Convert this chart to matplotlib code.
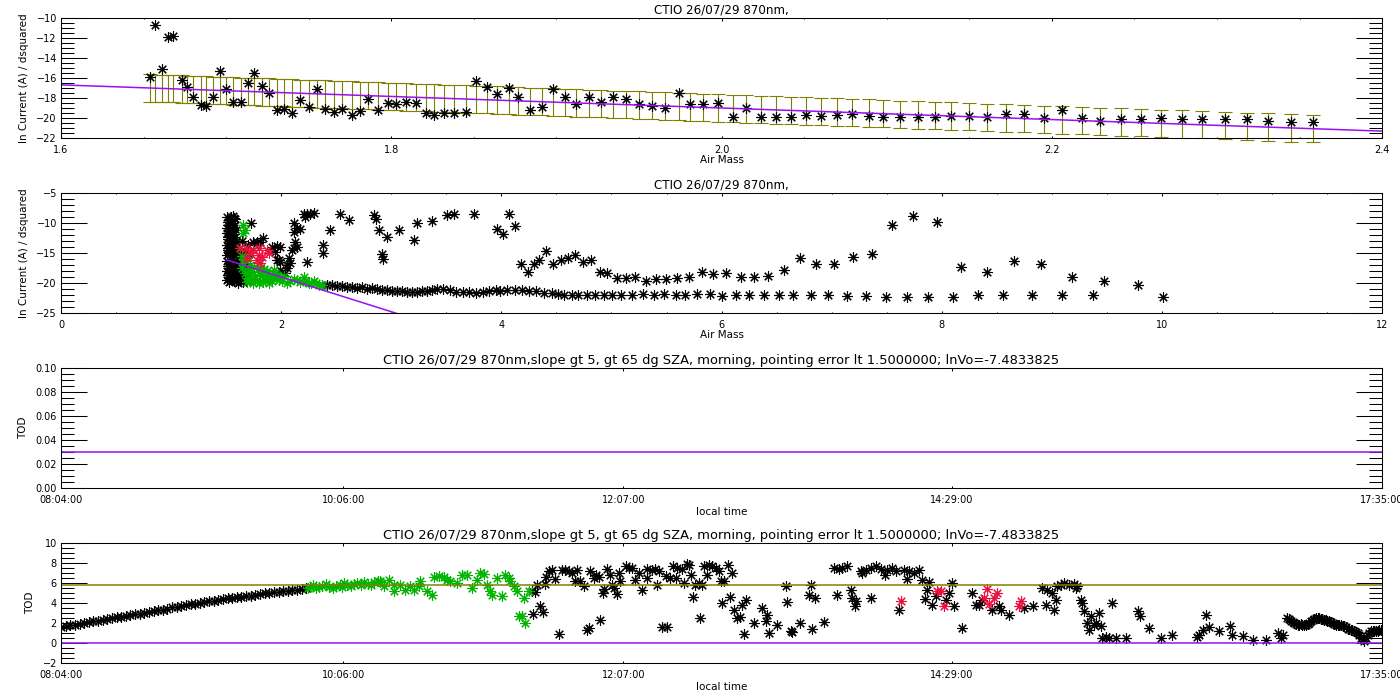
"""
Langley plot summary for CTIO 870nm: ln(current) vs air mass, and TOD vs local time
"""

import numpy as np
import matplotlib
matplotlib.use("Agg")
import matplotlib.pyplot as plt
from matplotlib.ticker import MultipleLocator, FixedLocator, FormatStrFormatter

OLIVE = "#808000"
PURPLE = "#9a10f0"
GREEN = "#00b400"
RED = "#e8103c"
ASTER = (8, 2, 0)

ln_vo = -7.4833825
tau = 5.75          # slope of the fit = TOD level drawn in the last panel
err_half = 1.36     # half length of the error bars in panel 1

title_short = "CTIO 26/07/29 870nm,"
title_long = ("CTIO 26/07/29 870nm,slope gt 5, gt 65 dg SZA, morning, "
              "pointing error lt 1.5000000; lnVo=-7.4833825")

# ---------------- panel 1 : points used in the fit ----------------
p1_am = [1.654, 1.657, 1.661, 1.665, 1.668, 1.673, 1.676, 1.680, 1.685, 1.688,
         1.692, 1.696, 1.700, 1.704, 1.709, 1.713, 1.717, 1.722, 1.726, 1.731,
         1.735, 1.740, 1.745, 1.750, 1.755, 1.760, 1.765, 1.770, 1.776, 1.781,
         1.786, 1.792, 1.798, 1.803, 1.809, 1.815, 1.821, 1.826, 1.832, 1.838,
         1.845, 1.851, 1.858, 1.864, 1.871, 1.877, 1.884, 1.891, 1.898, 1.905,
         1.912, 1.920, 1.927, 1.934, 1.942, 1.950, 1.958, 1.966, 1.974, 1.981,
         1.989, 1.998, 2.007, 2.015, 2.024, 2.033, 2.042, 2.051, 2.060, 2.070,
         2.079, 2.089, 2.098, 2.108, 2.119, 2.129, 2.139, 2.150, 2.161,
         2.172, 2.183, 2.195, 2.206, 2.218, 2.229, 2.242, 2.254, 2.266, 2.279,
         2.291, 2.305, 2.318, 2.331, 2.345, 2.358]
p1_lnv = [-15.89, -10.69, -15.07, -11.94, -11.78, -16.22, -16.88, -17.93, -18.68, -18.78,
          -17.86, -15.33, -17.14, -18.36, -18.36, -16.48, -15.49, -16.81, -17.53, -19.18,
          -19.11, -19.44, -18.19, -18.91, -17.14, -19.11, -19.34, -19.11, -19.67, -19.24,
          -18.13, -19.18, -18.52, -18.59, -18.36, -18.52, -19.44, -19.67, -19.51, -19.51,
          -19.34, -16.32, -16.94, -17.60, -17.04, -17.86, -19.18, -18.91, -17.14, -17.93,
          -18.59, -17.86, -18.36, -17.86, -18.13, -18.59, -18.78, -19.01, -17.47, -18.59,
          -18.59, -18.45, -19.84, -19.01, -19.84, -19.84, -19.84, -19.67, -19.77, -19.67,
          -19.57, -19.77, -19.84, -19.90, -19.84, -19.90, -19.77, -19.77, -19.84,
          -19.63, -19.63, -19.96, -19.14, -19.96, -20.23, -20.03, -20.03, -19.96, -20.03,
          -20.03, -20.03, -20.03, -20.23, -20.36, -20.36]

# ---------------- panel 2 : all points ----------------
p2_black_am = [
    # dense column near the minimum air mass
    1.51, 1.54, 1.56, 1.52, 1.55, 1.51, 1.56, 1.51, 1.54, 1.57, 1.52, 1.55, 1.51, 1.54, 1.57,
    1.52, 1.56, 1.57, 1.51, 1.54, 1.57, 1.63, 1.66, 1.70, 1.64, 1.70, 1.74, 1.78, 1.57, 1.73,
    1.53, 1.58, 1.52, 1.58, 1.53, 1.59, 1.52, 1.58, 1.53, 1.59, 1.52, 1.58, 1.53, 1.59,
    1.51, 1.55, 1.59, 1.63, 1.52, 1.56, 1.60, 1.64, 1.66, 1.51, 1.55, 1.59, 1.63, 1.66,
    1.52, 1.56, 1.60, 1.64, 1.66, 1.51, 1.55, 1.59, 1.63, 1.66,
    1.53, 1.57, 1.61, 1.65, 1.68, 1.53, 1.57, 1.61, 1.65, 1.68, 1.53, 1.57, 1.61, 1.65, 1.68,
    1.53, 1.57, 1.61, 1.65, 1.68, 1.53, 1.57, 1.61, 1.65, 1.68,
    # scattered points
    1.839, 1.809, 1.915, 1.961, 1.991, 1.976, 1.991, 2.067, 2.082, 2.051, 2.097, 2.112,
    2.127, 2.142, 2.118, 2.142, 2.173, 2.118, 2.203, 2.233, 2.264, 2.294, 2.218, 2.233,
    2.379, 2.379, 2.445, 2.536, 2.612, 2.839, 2.863, 2.885, 2.915, 2.924, 2.961, 3.067,
    3.203, 3.233, 3.370, 1.779, 1.945, 1.961, 1.991, 2.036, 2.051, 3.506, 3.567, 3.748, 3.961,
    4.069, 4.121, 4.017, 4.174, 4.242, 4.294, 4.346, 4.409, 4.471, 4.539, 4.607, 4.670,
    4.737, 4.816, 4.894, 4.962, 5.051, 5.129, 5.218, 5.312, 5.400, 5.494, 5.599, 5.703,
    5.818, 5.922, 6.042, 6.173, 6.298, 6.418, 6.564, 6.715, 6.861, 7.018, 7.190, 7.368,
    7.550, 7.738, 7.958, 8.177, 8.407, 8.652, 8.902, 9.184, 9.471, 9.784,
    # lower band
    2.370, 2.415, 2.460, 2.506, 2.551, 2.597, 2.642, 2.688, 2.733, 2.779, 2.824, 2.870,
    2.915, 2.961, 3.006, 3.052, 3.097, 3.142, 3.188, 3.233, 3.279, 3.324, 3.370, 3.415,
    3.47, 3.53, 3.59, 3.65, 3.71, 3.77, 3.83, 3.89, 3.95,
    3.991, 4.054, 4.121, 4.189, 4.252, 4.315, 4.383, 4.461, 4.513, 4.565, 4.643, 4.696,
    4.774, 4.852, 4.931, 5.009, 5.087, 5.191, 5.285, 5.390, 5.478, 5.583, 5.672, 5.776,
    5.896, 6.000, 6.131, 6.251, 6.381, 6.522, 6.653, 6.809, 6.966, 7.138, 7.316, 7.498,
    7.681, 7.879, 8.104, 8.333, 8.558, 8.819, 9.095, 9.377, 10.009]
p2_black_lnv = [
    -9.0, -9.1, -8.9, -9.8, -10.0, -10.8, -11.0, -11.6, -12.0, -11.8, -12.7, -13.0, -13.6, -13.8, -13.5,
    -14.5, -14.7, -14.3, -15.3, -15.5, -15.2, -14.9, -15.4, -15.0, -13.0, -13.6, -13.2, -13.4, -9.2, -10.07,
    -9.5, -9.4, -10.4, -10.3, -11.3, -11.2, -12.3, -12.4, -13.3, -13.2, -14.1, -14.0, -15.0, -15.1,
    -16.3, -16.2, -16.4, -16.3, -17.1, -17.0, -17.2, -17.1, -16.9, -17.9, -17.8, -18.0, -17.9, -17.7,
    -18.7, -18.6, -18.8, -18.7, -18.5, -19.5, -19.4, -19.6, -19.5, -19.3,
    -16.7, -16.6, -16.8, -16.7, -16.6, -17.5, -17.4, -17.6, -17.5, -17.3, -18.3, -18.2, -18.4, -18.3, -18.1,
    -19.1, -19.0, -19.2, -19.1, -18.9, -19.8, -19.7, -19.9, -19.8, -19.6,
    -12.55, -13.10, -13.93, -13.76, -13.93, -16.14, -16.42, -15.86, -16.69, -17.51, -14.48, -14.21,
    -13.10, -13.93, -11.45, -10.90, -11.00, -10.07, -8.58, -8.58, -8.58, -8.42, -8.97, -16.42,
    -13.65, -15.03, -11.17, -8.58, -9.52, -8.75, -9.30, -11.17, -15.20, -15.97, -12.27, -11.17,
    -12.82, -10.07, -9.69, -13.21, -14.76, -16.14, -17.79, -18.34, -16.97, -8.75, -8.59, -8.59, -10.96,
    -8.59, -10.57, -11.78, -16.74, -18.12, -16.74, -16.19, -14.65, -16.85, -16.19, -15.75, -15.37,
    -16.46, -16.08, -18.12, -18.29, -19.22, -19.22, -18.95, -19.61, -19.39, -19.39, -19.22, -19.06,
    -18.12, -18.51, -18.29, -19.06, -18.95, -18.84, -17.85, -15.75, -16.74, -16.74, -15.64, -15.09,
    -10.41, -8.92, -9.86, -17.40, -18.12, -16.30, -16.85, -19.06, -19.61, -20.33,
    -20.27, -20.38, -20.27, -20.54, -20.43, -20.65, -20.71, -20.82, -20.71, -20.93, -20.82, -21.04,
    -21.09, -21.15, -21.26, -21.37, -21.26, -21.48, -21.54, -21.48, -21.37, -21.26, -21.09, -20.93,
    -21.0, -21.2, -21.4, -21.5, -21.4, -21.6, -21.5, -21.3, -21.2,
    -21.26, -21.15, -21.15, -21.15, -21.26, -21.31, -21.59, -21.70, -21.86, -21.97, -21.97, -21.97,
    -21.97, -21.97, -21.97, -21.97, -21.97, -21.97, -21.86, -21.97, -21.86, -21.97, -21.97, -21.86,
    -21.86, -22.14, -21.97, -21.97, -21.97, -21.97, -21.97, -21.97, -21.97, -22.14, -22.14, -22.25,
    -22.36, -22.36, -22.36, -21.97, -21.97, -21.97, -21.97, -21.97, -22.25]

p2_green_am = [1.657, 1.651, 1.673, 1.627, 1.64, 1.66, 1.70,
               1.642, 1.673, 1.688, 1.718, 1.733, 1.763, 1.779, 1.809, 1.824, 1.855, 1.870,
               1.900, 1.915, 1.930, 1.961, 1.976, 2.006, 2.021, 1.718, 1.657, 1.688, 1.748,
               1.794, 1.839, 1.885,
               1.70, 1.75, 1.80, 1.84, 1.89, 1.94, 1.73, 1.78, 1.86, 1.95,
               1.991, 2.051, 2.112, 2.173, 2.203, 2.248, 2.294, 2.339, 2.370,
               2.08, 2.14, 2.22, 2.27, 2.32]
p2_green_lnv = [-10.35, -11.73, -11.18, -14.2, -15.5, -16.0, -15.6,
                -17.51, -18.34, -19.16, -19.71, -18.06, -18.89, -19.70, -17.51, -18.61, -19.44, -18.06,
                -18.89, -19.70, -17.78, -18.61, -19.44, -19.70, -18.89, -16.96, -16.69, -19.8, -19.9,
                -20.0, -19.8, -19.9,
                -17.9, -17.3, -18.2, -17.6, -19.0, -18.4, -19.3, -19.5, -19.0, -19.1,
                -19.16, -19.99, -19.27, -19.82, -19.05, -19.99, -19.71, -20.38, -20.27,
                -19.6, -19.5, -19.6, -19.9, -20.0]

p2_red_am = [1.627, 1.682, 1.688, 1.718, 1.794, 1.794, 1.779, 1.809, 1.870, 1.885, 1.748, 1.824]
p2_red_lnv = [-14.21, -14.10, -15.86, -15.03, -14.21, -15.31, -16.14, -16.69, -14.48, -15.03,
              -14.48, -15.58]

# ---------------- panels 3/4 : local time in minutes after midnight ----------------
time_ticks = [484, 606, 727, 869, 1055]
time_labels = ["08:04:00", "10:06:00", "12:07:00", "14:29:00", "17:35:00"]
p3_tod = 0.03

p4_black_t = [
    484, 486, 488, 490, 492, 494, 496, 498, 500, 502, 504, 506, 508, 510, 512, 514, 516, 518,
    520, 522, 524, 526, 528, 530, 532, 534, 536, 538, 540, 542, 544, 546, 548, 550, 552, 554,
    556, 558, 560, 562, 564, 566, 568, 570, 572, 574, 576, 578, 580, 582, 584, 586, 588, 590,
    687.6, 687.9, 689.0, 689.8, 691.2, 692.4, 693.1, 693.7, 694.8, 696.2, 697.7, 699.1, 700.6,
    702.0, 703.5, 704.9, 706.3, 707.1, 708.5, 709.9, 711.4, 712.1, 712.8, 714.3, 715.4, 716.4,
    716.9, 718.3, 718.9, 720.0, 721.2, 722.2, 722.9, 724.4, 725.1, 725.8, 728.0, 729.4, 730.9,
    732.3, 733.7, 735.2, 737.3, 737.3, 739.5, 740.9, 742.4, 741.7, 743.8, 746.0, 745.3, 747.4,
    748.6, 750.0, 750.3, 752.5, 753.2, 754.4, 755.4, 756.1, 757.2, 758.2, 759.7, 760.1, 761.1,
    761.8, 763.3, 764.0, 765.5, 766.9, 768.3, 769.1, 769.8, 770.5, 772.2, 773.1, 774.1, 774.8,
    776.3, 777.4, 778.4, 779.1, 779.9, 783.5, 787.1, 788.5, 789.2, 790.0, 793.3,
    797.2, 797.9, 799.3, 800.0, 803.4, 807.3, 808.0, 808.7, 810.1, 813.7, 818.1, 820.2, 819.2,
    821.7, 823.8, 825.3, 826.0, 827.4, 827.0, 829.6, 830.3, 831.8, 833.9, 833.9, 836.1, 838.3,
    840.0, 841.1, 843.3, 844.7, 846.2, 848.3, 849.8, 850.5, 852.7, 854.8, 856.3, 858.4, 859.2,
    857.3, 860.6, 862.0, 866.4, 867.8, 869.2, 870.0, 873.6, 877.9, 879.3, 880.8, 882.2, 886.6,
    889.4, 890.2, 893.8, 900.2, 903.9, 908.2, 909.6, 910.3, 912.5, 913.2, 913.9, 914.7, 916.1,
    917.5, 919.7, 921.9, 922.6, 923.3, 924.8, 925.5, 926.2, 927.6, 928.4, 929.1, 930.5, 931.2,
    932.7, 933.4, 934.1, 935.6, 937.0, 938.2, 939.9,
    944.2, 949.3, 950.4, 954.3, 959.4, 964.4, 975.2, 975.9, 977.4, 978.8, 980.3, 984.6, 989.3,
    990.3, 994.7, 999.4, 1004.8, 1009.8, 1011.3, 1012.0,
    1014.1, 1014.8, 1015.6, 1016.3, 1017.0, 1017.8, 1018.5, 1019.2, 1019.9, 1020.6, 1021.3,
    1022.0, 1022.8, 1023.5, 1024.2, 1025.0, 1025.7, 1026.4, 1027.1, 1027.8, 1028.5, 1029.2,
    1030.0, 1030.7, 1031.4, 1032.1, 1032.9, 1033.6, 1034.3, 1035.0, 1035.8, 1036.5, 1037.2,
    1037.9, 1038.6, 1039.3, 1040.1, 1040.8, 1041.5, 1042.2, 1043.0, 1043.7, 1044.4, 1045.1,
    1045.9, 1046.6, 1047.3, 1048.0, 1048.7, 1049.5, 1050.2, 1050.9, 1051.6, 1052.3, 1053.1,
    1053.8, 1054.4]
p4_black_tod = [
    1.60, 1.68, 1.80, 1.86, 1.94, 2.05, 2.10, 2.20, 2.24, 2.35, 2.40, 2.47, 2.57, 2.62, 2.71, 2.78,
    2.86, 2.92, 3.03, 3.10, 3.18, 3.29, 3.35, 3.44, 3.56, 3.61, 3.71, 3.77, 3.86, 3.92, 4.01, 4.07,
    4.16, 4.21, 4.31, 4.37, 4.46, 4.51, 4.59, 4.62, 4.71, 4.74, 4.83, 4.87, 4.95, 4.99, 5.06, 5.09,
    5.18, 5.21, 5.29, 5.34, 5.43, 5.49,
    5.15, 2.90, 5.10, 5.80, 3.67, 3.10, 5.90, 6.55, 7.15, 7.30, 6.40, 0.96, 7.30,
    7.30, 7.15, 7.00, 6.20, 7.30, 6.15, 5.65, 1.36, 1.52, 7.20, 6.50, 6.80, 6.55,
    2.35, 5.00, 5.40, 7.40, 6.80, 5.80, 5.50, 4.90, 7.00, 6.15, 7.65, 7.50, 7.50,
    6.30, 7.00, 5.30, 7.40, 6.50, 7.30, 7.40, 7.20, 5.80, 1.60, 1.60, 6.65, 6.50,
    7.65, 6.50, 7.50, 7.40, 6.00, 7.90, 7.80, 6.80, 4.56, 5.80, 6.00, 2.50, 5.80,
    7.70, 6.80, 7.80, 7.65, 7.50, 7.20, 6.20, 4.00, 6.20, 7.80, 4.56, 7.00, 3.34,
    2.50, 2.58, 3.83, 0.96, 4.33, 2.00, 3.50, 2.18, 2.78, 1.00, 1.80,
    5.65, 4.10, 1.19, 1.12, 2.00, 4.83, 5.75, 1.45, 4.50, 2.10, 7.47, 7.40, 4.76,
    7.47, 7.64, 5.32, 4.50, 4.17, 3.67, 7.14, 6.97, 7.30, 4.50, 7.47, 7.64, 7.40,
    6.80, 7.30, 7.47, 7.20, 3.34, 7.30, 6.40, 7.14, 6.97, 7.30, 6.30, 5.32, 6.08,
    4.43, 3.83, 4.66, 4.33, 4.99, 5.98, 3.67, 1.52, 4.99, 3.83, 3.83, 4.33, 3.34,
    3.67, 3.34, 2.84, 3.50, 3.67, 5.49, 3.83, 5.32, 4.99, 3.34, 4.33, 5.65, 5.82,
    5.98, 5.82, 5.88, 5.49, 5.65, 4.33, 4.00, 3.17, 2.02, 1.36, 2.68, 1.85, 2.02,
    3.00, 1.69, 0.53, 0.60, 0.53, 4.00, 0.53,
    0.53, 3.17, 2.68, 1.52, 0.53, 0.79, 0.60, 0.86, 1.36, 2.78, 1.59, 1.19, 1.69,
    0.79, 0.69, 0.36, 0.36, 1.02, 0.53, 0.86,
    2.51, 2.40, 2.25, 2.12, 2.02, 1.90, 1.79, 1.86, 1.92, 1.84, 1.79,
    1.85, 1.92, 2.05, 2.18, 2.30, 2.45, 2.48, 2.51, 2.49, 2.45, 2.40,
    2.35, 2.30, 2.25, 2.18, 2.12, 2.02, 1.92, 1.85, 1.79, 1.80, 1.79,
    1.74, 1.69, 1.58, 1.45, 1.40, 1.36, 1.28, 1.19, 1.10, 1.02, 0.80,
    0.53, 0.38, 0.26, 0.55, 0.86, 1.05, 1.26, 1.22, 1.19, 1.22, 1.26,
    1.30, 1.36]

p4_green_t = [590.8, 591.8, 592.7, 594.0, 595.6, 597.0, 598.6, 600.0, 601.5, 603.0, 604.4,
              605.5, 606.3, 607.8, 609.2, 610.5, 612.1, 613.5, 615.0, 616.5, 617.9, 619.3,
              620.8, 622.0,
              622.0, 623.4, 625.6, 627.8, 627.8, 630.7, 632.8, 635.0, 636.4, 638.6, 639.3,
              642.2, 644.3, 645.1, 647.2, 649.4, 650.8, 652.3, 655.2, 657.3, 659.5, 661.6,
              663.8, 665.3, 666.7, 668.1, 669.6, 670.3, 672.5, 674.6, 676.1, 677.5, 678.2,
              679.7, 681.1, 681.8, 683.3, 684.7, 684.0, 686.2]
p4_green_tod = [5.45, 5.60, 5.80, 5.50, 5.55, 5.70, 5.90, 5.60, 5.45, 5.70, 5.80,
                5.55, 6.00, 5.75, 5.70, 5.90, 5.95, 5.75, 6.10, 5.90, 5.80, 6.05,
                6.20, 6.10,
                6.15, 5.65, 6.30, 5.80, 5.15, 5.80, 5.30, 5.65, 5.30, 5.65, 6.20,
                5.15, 4.75, 6.55, 6.65, 6.55, 6.30, 6.15, 6.00, 6.80, 6.75, 5.50,
                6.30, 6.97, 6.88, 5.80, 5.20, 4.75, 6.50, 4.65, 6.80, 6.50, 6.15,
                5.65, 5.20, 2.68, 2.68, 2.00, 4.50, 5.15]

p4_red_t = [846.9, 862.8, 864.2, 865.6, 882.9, 884.4, 885.1, 887.3, 888.4, 898.1, 899.1]
p4_red_tod = [4.17, 5.22, 5.22, 3.67, 4.50, 5.42, 3.90, 4.50, 4.99, 3.67, 4.17]


def idl_axes(ax):
    ax.tick_params(which="both", direction="in", top=True, right=True,
                   labelsize=7, width=0.75, colors="black")
    ax.tick_params(axis="y", which="major", length=18.7, pad=3)
    ax.tick_params(axis="y", which="minor", length=9.4)
    ax.tick_params(axis="x", which="major", length=1.8, pad=5)
    ax.tick_params(axis="x", which="minor", length=0.9)
    for s in ax.spines.values():
        s.set_linewidth(0.75)


def stars(ax, x, y, color):
    ax.plot(x, y, linestyle="none", marker=ASTER, markersize=7.5,
            markeredgewidth=0.8, color=color)


fig = plt.figure(figsize=(14, 7), dpi=100)
left, width, height = 0.0436, 0.9436, 0.1723
bottoms = [0.8024, 0.5524, 0.3024, 0.0524]
axes = [fig.add_axes([left, b, width, height]) for b in bottoms]

# panel 1
ax = axes[0]
am = np.array(p1_am)
eb = ax.errorbar(am, ln_vo - tau * am, yerr=err_half, fmt="none", ecolor=OLIVE,
                 elinewidth=0.8, capsize=5, capthick=0.8)
for art in list(eb.lines[1]) + list(eb.lines[2]):
    art.set_clip_on(False)
stars(ax, p1_am, p1_lnv, "black")
fx = np.array([1.6, 2.4])
ax.plot(fx, ln_vo - tau * fx, color=PURPLE, lw=1.1)
ax.set_xlim(1.6, 2.4)
ax.set_ylim(-22, -10)
ax.xaxis.set_major_locator(MultipleLocator(0.2))
ax.xaxis.set_minor_locator(MultipleLocator(0.05))
ax.xaxis.set_major_formatter(FormatStrFormatter("%.1f"))
ax.yaxis.set_major_locator(MultipleLocator(2))
ax.yaxis.set_minor_locator(MultipleLocator(0.5))
ax.set_xlabel("Air Mass", fontsize=7.5, labelpad=0)
ax.set_ylabel("ln Current (A) / dsquared", fontsize=7.5, labelpad=5)
ax.set_title(title_short, fontsize=8.6, pad=3)

# panel 2
ax = axes[1]
stars(ax, p2_black_am, p2_black_lnv, "black")
stars(ax, p2_green_am, p2_green_lnv, GREEN)
stars(ax, p2_red_am, p2_red_lnv, RED)
fx = np.array([1.506, 12.0])
ax.plot(fx, ln_vo - tau * fx, color=PURPLE, lw=1.1)
ax.set_xlim(0, 12)
ax.set_ylim(-25, -5)
ax.xaxis.set_major_locator(MultipleLocator(2))
ax.xaxis.set_minor_locator(MultipleLocator(0.5))
ax.yaxis.set_major_locator(MultipleLocator(5))
ax.yaxis.set_minor_locator(MultipleLocator(1))
ax.set_xlabel("Air Mass", fontsize=7.5, labelpad=0)
ax.set_ylabel("ln Current (A) / dsquared", fontsize=7.5, labelpad=5)
ax.set_title(title_short, fontsize=8.6, pad=3)

# panel 3
ax = axes[2]
ax.axhline(p3_tod, color=PURPLE, lw=1.1)
ax.set_ylim(0, 0.1)
ax.yaxis.set_major_locator(MultipleLocator(0.02))
ax.yaxis.set_minor_locator(MultipleLocator(0.005))
ax.yaxis.set_major_formatter(FormatStrFormatter("%.2f"))

# panel 4
ax = axes[3]
stars(ax, p4_black_t, p4_black_tod, "black")
stars(ax, p4_green_t, p4_green_tod, GREEN)
stars(ax, p4_red_t, p4_red_tod, RED)
ax.axhline(tau, color=OLIVE, lw=1.1)
ax.axhline(0, color=PURPLE, lw=1.1)
ax.set_ylim(-2, 10)
ax.yaxis.set_major_locator(MultipleLocator(2))
ax.yaxis.set_minor_locator(MultipleLocator(0.5))

for ax in axes[2:]:
    ax.set_xlim(time_ticks[0], time_ticks[-1])
    ax.xaxis.set_major_locator(FixedLocator(time_ticks))
    ax.set_xticklabels(time_labels)
    ax.set_xlabel("local time", fontsize=7.5, labelpad=1)
    ax.set_ylabel("TOD", fontsize=7.5, labelpad=5)
    ax.set_title(title_long, fontsize=9.4, pad=3)

for ax in axes:
    idl_axes(ax)
for ax in axes[2:]:
    ax.xaxis.set_minor_locator(FixedLocator([]))

fig.savefig("out.png", dpi=100)
